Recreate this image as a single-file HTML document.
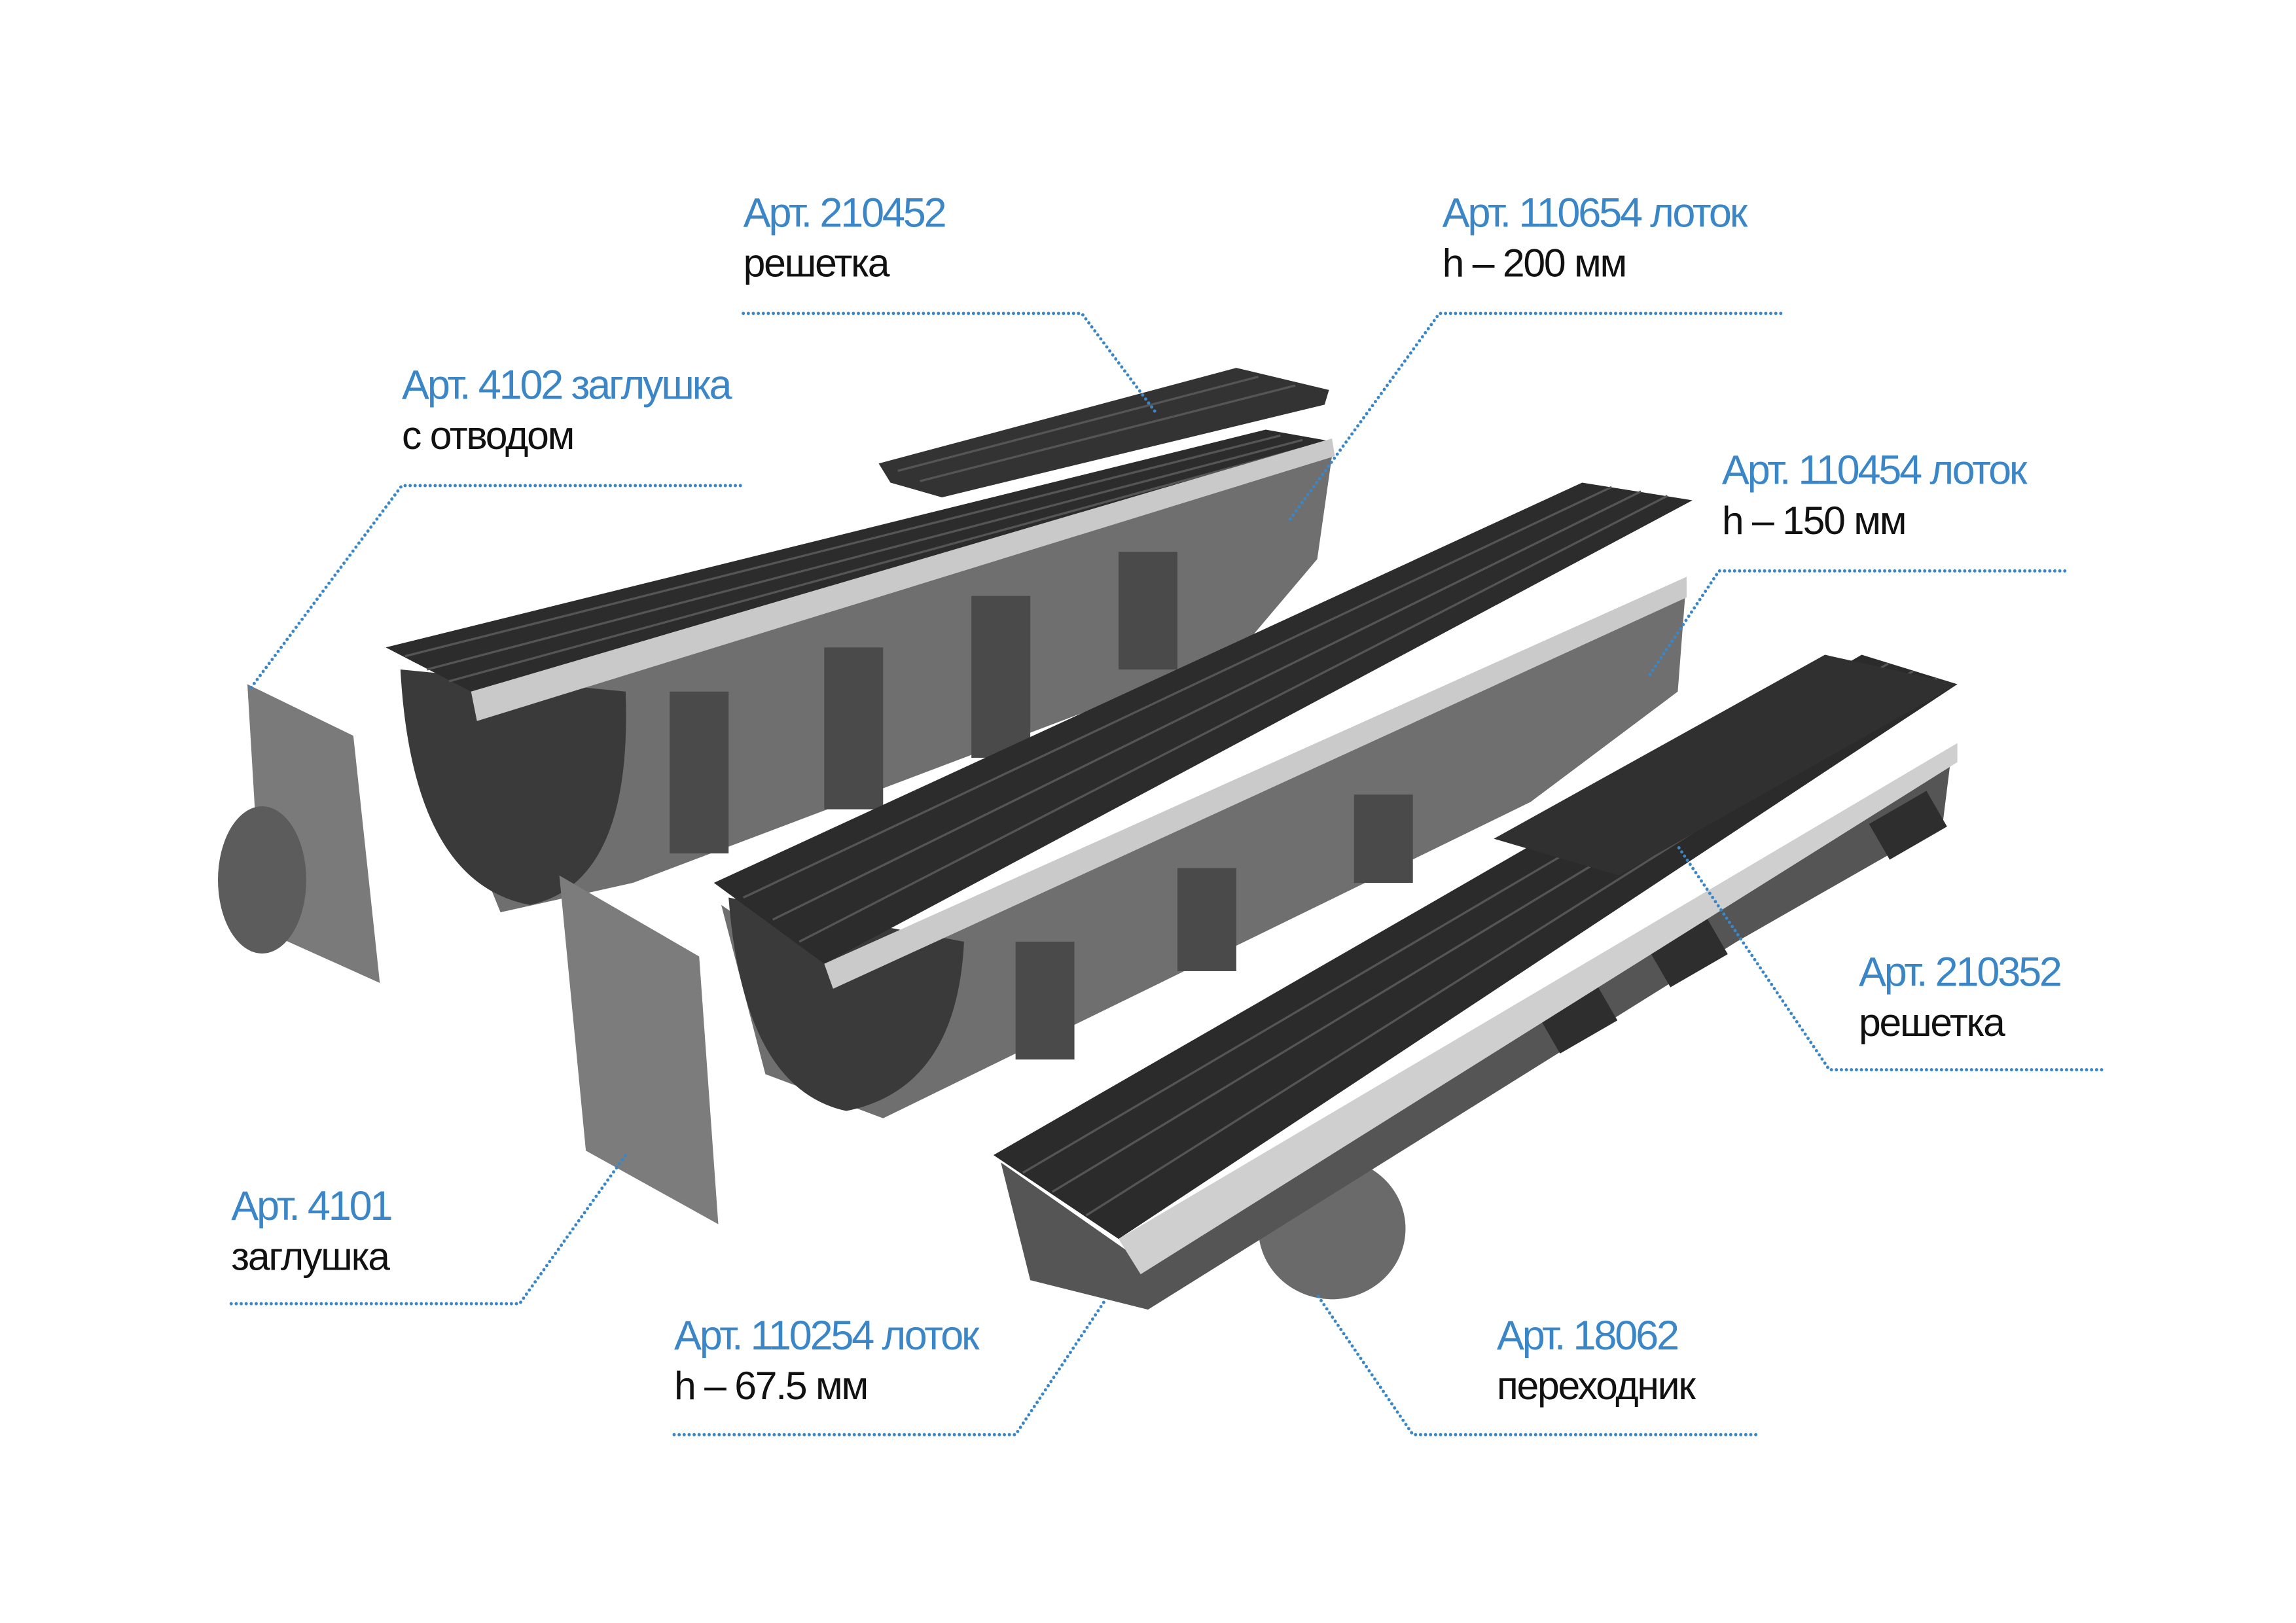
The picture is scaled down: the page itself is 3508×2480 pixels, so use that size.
<!DOCTYPE html>
<html><head><meta charset="utf-8"><style>
html,body{margin:0;padding:0;background:#fff;}
svg{display:block;}
.b{fill:#3b86c6;font-family:"Liberation Sans",sans-serif;font-size:28px;letter-spacing:-1.4px;}
.k{fill:#111;font-family:"Liberation Sans",sans-serif;font-size:27px;letter-spacing:-1px;}
.d{fill:none;stroke:#3b86c6;stroke-width:2.2;stroke-linecap:round;stroke-dasharray:0 3.4;}
.s{stroke:#555;stroke-width:1.5;fill:none;}
</style></head><body>
<svg width="3508" height="2480" viewBox="0 0 1560 1103" xmlns="http://www.w3.org/2000/svg">
<rect width="1560" height="1103" fill="#fff"/>
<!-- Channel 1 -->
<polygon points="325,488 905,310 895,380 840,445 430,600 340,620 275,460" fill="#6f6f6f"/>
<path d="M272,455 Q280,600 360,615 Q430,600 425,470 Z" fill="#3a3a3a"/>
<polygon points="262,440 860,292 905,300 320,470" fill="#2c2c2c"/>
<g class="s"><line x1="275" y1="446" x2="870" y2="296"/><line x1="290" y1="455" x2="885" y2="299"/><line x1="305" y1="463" x2="898" y2="301"/></g>
<polygon points="320,470 905,298 907,310 324,490" fill="#c9c9c9"/>
<polygon points="597,315 840,250 903,265 900,275 640,338 605,328" fill="#333"/>
<g class="s"><line x1="610" y1="320" x2="855" y2="256"/><line x1="625" y1="327" x2="880" y2="262"/></g>
<g fill="#4a4a4a"><rect x="455" y="470" width="40" height="110"/><rect x="560" y="440" width="40" height="110" /><rect x="660" y="405" width="40" height="110"/><rect x="760" y="375" width="40" height="80"/></g>
<!-- Channel 2 -->
<polygon points="570,670 1145,405 1140,470 1040,545 600,760 520,730 490,615" fill="#6f6f6f"/>
<path d="M495,610 Q505,740 575,755 Q650,740 655,640 Z" fill="#3a3a3a"/>
<g fill="#4a4a4a"><rect x="690" y="640" width="40" height="80"/><rect x="800" y="590" width="40" height="70"/><rect x="920" y="540" width="40" height="60"/></g>
<polygon points="485,600 1075,328 1150,340 560,655" fill="#2c2c2c"/>
<g class="s"><line x1="505" y1="610" x2="1095" y2="331"/><line x1="525" y1="625" x2="1115" y2="334"/><line x1="543" y1="640" x2="1133" y2="337"/></g>
<polygon points="560,655 1146,392 1146,406 566,672" fill="#cacaca"/>
<!-- Channel 3 -->
<ellipse cx="905" cy="835" rx="50" ry="48" fill="#6a6a6a"/>
<polygon points="680,790 780,860 1325,520 1320,560 1180,640 780,890 700,870" fill="#555"/>
<g fill="#2e2e2e"><rect x="1045" y="690" width="45" height="30" transform="rotate(-30 1045 690)"/><rect x="1120" y="645" width="45" height="30" transform="rotate(-30 1120 645)"/><rect x="1270" y="560" width="45" height="28" transform="rotate(-30 1270 560)"/></g>
<polygon points="675,785 1265,445 1330,465 760,842" fill="#2b2b2b"/>
<g class="s"><line x1="695" y1="797" x2="1283" y2="451"/><line x1="715" y1="810" x2="1300" y2="456"/><line x1="738" y1="826" x2="1316" y2="461"/></g>
<polygon points="760,842 1330,505 1330,518 775,866" fill="#cfcfcf"/>
<polygon points="1015,570 1240,445 1330,465 1100,595" fill="#303030"/>
<!-- plates -->
<polygon points="168,465 240,500 258,668 178,632" fill="#7a7a7a"/>
<ellipse cx="178" cy="598" rx="30" ry="50" fill="#5c5c5c"/>
<polygon points="380,595 475,650 488,832 398,782" fill="#7c7c7c"/>
<!-- leader lines -->
<polyline class="d" points="505,213 735,213 785,280"/>
<polyline class="d" points="1210,213 978,213 875,355"/>
<polyline class="d" points="503,330 273,330 170,468"/>
<polyline class="d" points="1403,388 1168,388 1120,460"/>
<polyline class="d" points="1428,727 1243,727 1140,575"/>
<polyline class="d" points="157,886 353,886 425,785"/>
<polyline class="d" points="458,975 690,975 750,885"/>
<polyline class="d" points="1193,975 960,975 895,880"/>
<!-- labels -->
<text class="b" x="505" y="154">Арт. 210452</text><text class="k" x="505" y="188">решетка</text>
<text class="b" x="980" y="154">Арт. 110654 лоток</text><text class="k" x="980" y="188">h – 200 мм</text>
<text class="b" x="273" y="271">Арт. 4102 заглушка</text><text class="k" x="273" y="305">с отводом</text>
<text class="b" x="1170" y="329">Арт. 110454 лоток</text><text class="k" x="1170" y="363">h – 150 мм</text>
<text class="b" x="1263" y="670">Арт. 210352</text><text class="k" x="1263" y="704">решетка</text>
<text class="b" x="157" y="829">Арт. 4101</text><text class="k" x="157" y="863">заглушка</text>
<text class="b" x="458" y="917">Арт. 110254 лоток</text><text class="k" x="458" y="951">h – 67.5 мм</text>
<text class="b" x="1017" y="917">Арт. 18062</text><text class="k" x="1017" y="951">переходник</text>
</svg>
</body></html>
